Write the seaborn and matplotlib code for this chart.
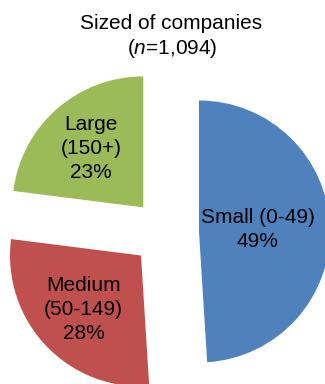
import matplotlib
matplotlib.use('Agg')
import matplotlib.pyplot as plt
import seaborn as sns
import numpy as np

# company size shares (n = 1,094)
categories = ['Small (0-49)', 'Medium (50-149)', 'Large (150+)']
label_text = ['Small (0-49)\n49%', 'Medium\n(50-149)\n28%', 'Large\n(150+)\n23%']
shares = [49, 28, 23]
colors = ['#4F81BD', '#C0504D', '#9BBB59']

sns.set_theme(style='white')
plt.rcParams['font.family'] = ['Liberation Sans', 'DejaVu Sans']
plt.rcParams['text.color'] = 'black'
plt.rcParams['mathtext.fontset'] = 'custom'
plt.rcParams['mathtext.it'] = 'Liberation Sans:italic'
plt.rcParams['mathtext.rm'] = 'Liberation Sans'

fig = plt.figure(figsize=(3.25, 3.84), dpi=100)
ax = fig.add_axes([0, 0, 1, 1])

wedges, _ = ax.pie(shares, colors=colors, startangle=90, counterclock=False,
                   explode=[0.256] * 3, radius=1.0,
                   wedgeprops=dict(linewidth=0))

# label distance from each wedge's own corner
label_dist = [0.45, 0.6, 0.6]
for w, txt, d in zip(wedges, label_text, label_dist):
    ang = np.deg2rad((w.theta1 + w.theta2) / 2)
    cx, cy = w.center
    ax.text(cx + d * w.r * np.cos(ang), cy + d * w.r * np.sin(ang), txt,
            ha='center', va='center', fontsize=15, color='black',
            linespacing=1.32)

ax.set_xlim(-1.263, 1.218)
ax.set_ylim(-1.156, 1.775)
ax.set_aspect('equal')
ax.axis('off')

fig.text(0.526, 0.940, 'Sized of companies', ha='center', va='center',
         fontsize=15, color='black')
fig.text(0.529, 0.874, r'($n$=1,094)', ha='center', va='center',
         fontsize=15, color='black')

fig.savefig('out.png', dpi=100)
